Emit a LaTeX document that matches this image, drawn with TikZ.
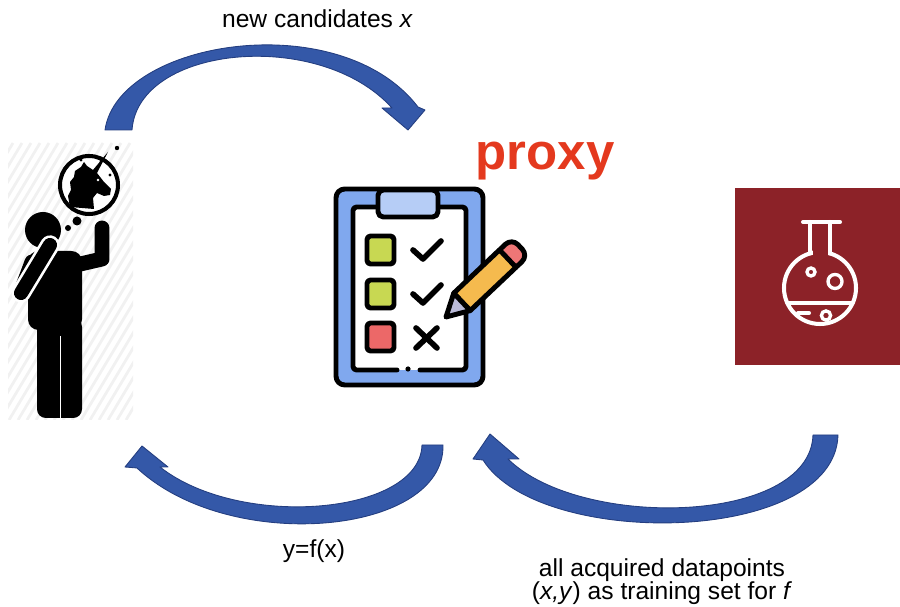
\documentclass[tikz,border=0pt]{standalone}
\usepackage{fontspec}
\setmainfont{Liberation Sans}
\definecolor{arrowfill}{RGB}{52,88,168}
\definecolor{arrowedge}{RGB}{36,62,128}
\definecolor{proxyred}{RGB}{228,57,30}
\definecolor{boardblue}{RGB}{128,168,238}
\definecolor{clipblue}{RGB}{182,205,246}
\definecolor{boxgreen}{RGB}{200,216,82}
\definecolor{boxred}{RGB}{236,104,104}
\definecolor{pencilorange}{RGB}{245,186,78}
\definecolor{pencilpink}{RGB}{238,118,118}
\definecolor{pencillead}{RGB}{186,186,216}
\definecolor{labred}{RGB}{140,34,40}
\definecolor{hatch}{RGB}{241,241,241}
\begin{document}
\begin{tikzpicture}[x=0.02cm,y=-0.02cm,
  label/.style={font=\fontsize{14}{17}\selectfont, inner sep=0pt, anchor=base},
  bigarrow/.style={fill=arrowfill, draw=arrowedge, line width=0.5pt, line join=round},
  outline/.style={draw=black, line width=2.8pt, line join=round},
  tick/.style={draw=black, line width=3.2pt, line cap=round, line join=round},
  flaskline/.style={draw=white, line width=2.3pt, line cap=round}]
\useasboundingbox (0,0) rectangle (900,607);

% ---------- scientist with thought bubble ----------
\begin{scope}
  \clip (8,143) rectangle (133,420);
  \foreach \i in {-180,-171,...,140}
    \draw[hatch, line width=1.6pt] (\i,420) -- (\i+166,143);
\end{scope}
\fill (43,230) circle (18);
\fill[rounded corners=6pt] (28,251) rectangle (82,330);
\fill[rounded corners=5pt] (37,318) rectangle (82,418);
\draw[white, line width=1.1pt] (60.5,336) -- (60.5,420);
\draw[line width=8.5pt, line cap=round, line join=round] (76,265) -- (102,259) -- (102,228);
\draw[line width=8.5pt, line cap=round, line join=round] (32,262) -- (20,294);
\draw[white, line width=11pt, line cap=round] (21,293) -- (50,245);
\draw[line width=8pt, line cap=round] (21,293) -- (50,245);
% thought bubble
\fill (77,221) circle (4.5);
\fill (68,228) circle (3);
\draw[line width=2.3pt, fill=white] (89,185) circle (29);
\fill (70,207) -- (68,196) -- (71,190) -- (70,182) -- (74,177) -- (75,171)
  -- (81,167) -- (84,162) -- (87,166) -- (93,170) -- (108,152) -- (97,173)
  -- (104,182) -- (111,189) -- (110,195) -- (104,196) -- (97,193)
  -- (93,198) -- (94,209) -- cycle;
\fill[white] (98,180) circle (1.3);
\foreach \p in {(81,160),(91,156),(101,161),(110,175)}
  \fill \p circle (1.6);
\fill (117,148) circle (2.2);

% ---------- proxy: clipboard with checklist ----------
\draw[outline, fill=boardblue, rounded corners=5pt] (336,189) rectangle (483,385);
\fill[white] (353,207) rectangle (466,370);
\draw[outline, line cap=round, rounded corners=2pt]
  (397,370) -- (353,370) -- (353,207) -- (466,207) -- (466,370) -- (420,370);
\fill (408,369) circle (2.6);
\draw[outline, fill=clipblue, rounded corners=3pt] (378,190) rectangle (438,217);
\draw[outline, fill=boxgreen, rounded corners=2pt] (367,236) rectangle (394,264);
\draw[outline, fill=boxgreen, rounded corners=2pt] (367,280) rectangle (394,308);
\draw[outline, fill=boxred, rounded corners=2pt] (367,323) rectangle (394,351);
\draw[tick] (413,250) -- (423,259) -- (441,241);
\draw[tick] (413,294) -- (423,303) -- (441,285);
\draw[tick] (416,328) -- (437,348);
\draw[tick] (437,328) -- (416,348);
% pencil
\begin{scope}[shift={(446,317)}, rotate=43.4]
  \draw[outline, fill=pencilpink, rounded corners=5pt] (78,-12) rectangle (102,12);
  \draw[outline, fill=pencilorange] (22,-12) rectangle (85,12);
  \draw[outline, fill=pencillead] (22,-12) -- (0,0) -- (22,12) -- cycle;
\end{scope}
\node[label, font=\fontsize{29}{34}\selectfont\bfseries, text=proxyred] (proxy) at (545,170) {proxy};

% ---------- laboratory ----------
\fill[labred] (735,188) rectangle (900,365);
\draw[flaskline] (820,288) circle (36);
\fill[labred] (812.5,246) rectangle (827.5,258);
\draw[flaskline] (803,222) -- (840,222);
\draw[flaskline] (810,222) -- (810,253.4);
\draw[flaskline] (830,222) -- (830,253.4);
\draw[flaskline] (787.3,303) -- (852.7,303);
\draw[flaskline] (798,313) -- (809,313);
\draw[white, line width=1.9pt] (811,272) circle (4);
\draw[white, line width=1.9pt] (835,281.5) circle (7);
\draw[white, line width=1.9pt] (826,315.5) circle (4.6);

% ---------- loop arrows ----------
\coordinate (toptip) at (408,130);
\fill[bigarrow] (105,130) .. controls (118,40) and (340,5) .. (418,107)
  -- (425,110) -- (toptip) -- (382,108) -- (392,108)
  .. controls (320,28) and (138,45) .. (132,130) -- cycle;
\coordinate (lefttip) at (142,446);
\fill[bigarrow] (443,445) .. controls (445,535) and (230,555) .. (137,468)
  -- (125,467) -- (lefttip) -- (168,467) -- (160,467)
  .. controls (240,530) and (420,515) .. (422,445) -- cycle;
\coordinate (righttip) at (490,434);
\fill[bigarrow] (838,435) .. controls (835,545) and (540,550) .. (483,460)
  -- (473,459) -- (righttip) -- (519,459) -- (508,459)
  .. controls (580,530) and (810,525) .. (813,435) -- cycle;

% ---------- labels ----------
\node[label] (lblnew) at (317.5,28) {new candidates \textit{x}};
\node[label] (lbly) at (314,558) {y=f(x)};
\node[label] (lblall) at (662,577) {all acquired datapoints};
\node[label] (lblset) at (662,600) {(\textit{x,y}) as training set for \textit{f}};
\end{tikzpicture}
\end{document}
